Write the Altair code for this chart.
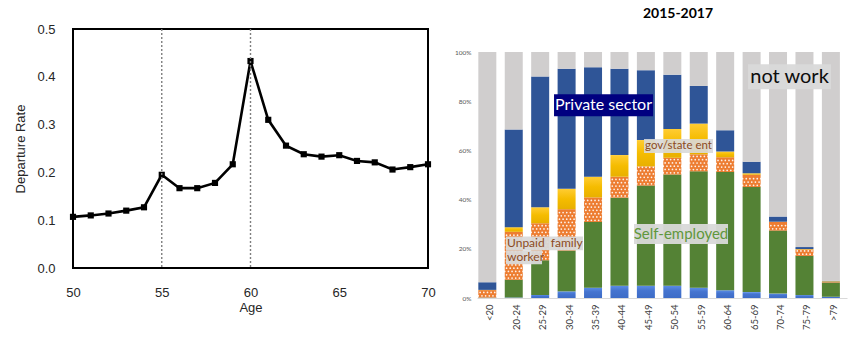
import altair as alt
import pandas as pd

# ---------------- Left panel: departure rate by age ----------------
ages = list(range(50, 71))
departure_rate = [0.107, 0.110, 0.114, 0.120, 0.127, 0.195, 0.167, 0.167, 0.178, 0.217,
                  0.433, 0.310, 0.256, 0.238, 0.233, 0.236, 0.224, 0.221, 0.206, 0.211, 0.217]
reference_ages = [55, 60]
x_ticks = [50, 55, 60, 65, 70]
y_ticks = [0.0, 0.1, 0.2, 0.3, 0.4, 0.5]

# ---------------- Right panel: employment shares (%) ----------------
age_groups = ["<20", "20-24", "25-29", "30-34", "35-39", "40-44", "45-49",
              "50-54", "55-59", "60-64", "65-69", "70-74", "75-79", ">79"]
public_sector = [0.1, 0.2, 1.2, 2.7, 4.2, 5.0, 5.0, 5.0, 4.2, 3.1, 2.4, 1.8, 1.2, 0.5]
self_employed = [0.1, 7.2, 14.1, 16.6, 26.7, 35.8, 40.7, 45.2, 47.3, 48.1, 42.7, 25.6, 15.9, 5.8]
unpaid_family = [3.0, 19.5, 15.1, 16.8, 10.0, 8.5, 7.8, 6.8, 6.9, 6.0, 5.0, 3.5, 2.6, 0.3]
gov_state_ent = [0.1, 1.9, 6.5, 8.3, 8.4, 8.8, 10.7, 11.7, 12.5, 2.4, 0.6, 0.1, 0.2, 0.2]
private_sector = [3.1, 39.7, 53.1, 48.8, 44.5, 35.1, 28.4, 22.1, 15.3, 8.6, 4.7, 2.1, 0.8, 0.2]
not_work = [93.6, 31.5, 10.0, 6.8, 6.2, 6.8, 7.4, 9.2, 13.8, 31.8, 44.6, 66.9, 79.3, 93.0]
pct_ticks = [0, 10, 20, 30, 40, 50, 60, 70, 80, 90, 100]

LEFT_FONT = "Liberation Sans"
RIGHT_FONT = "Lato"

# ================= Left chart =================
left_df = pd.DataFrame({"age": ages, "rate": departure_rate})
ref_df = pd.DataFrame({"age": reference_ages})

x_left = alt.X("age:Q",
               scale=alt.Scale(domain=[50, 70], nice=False, zero=False),
               axis=alt.Axis(values=x_ticks, title="Age", grid=False, domain=False, ticks=False,
                             labelFlush=False, labelOverlap=False,
                             labelFont=LEFT_FONT, labelFontSize=13, labelColor="#262626",
                             labelPadding=18, titleFont=LEFT_FONT, titleFontSize=13,
                             titleFontWeight="normal", titleColor="#262626", titlePadding=2))
y_left = alt.Y("rate:Q",
               scale=alt.Scale(domain=[0, 0.5], nice=False),
               axis=alt.Axis(values=y_ticks, format=".1f", title="Departure Rate", grid=False,
                             domain=False, ticks=False, labelFlush=False, labelOverlap=False,
                             labelFont=LEFT_FONT, labelFontSize=13,
                             labelColor="#262626", labelPadding=18, titleFont=LEFT_FONT,
                             titleFontSize=13, titleFontWeight="normal", titleColor="#262626",
                             titlePadding=9))

line = alt.Chart(left_df).mark_line(
    color="black", strokeWidth=2.6,
    point=alt.OverlayMarkDef(shape="square", size=38, filled=True, color="black", opacity=1)
).encode(x=x_left, y=y_left)

rules = alt.Chart(ref_df).mark_rule(color="#7f7f7f", strokeDash=[2, 2], strokeWidth=1.4).encode(
    x=alt.X("age:Q")
)

left = alt.layer(line, rules).properties(
    width=355, height=239,
    view=alt.ViewBackground(stroke="black", strokeWidth=2),
)

# ================= Right chart =================
segments = [
    ("public", public_sector),
    ("self", self_employed),
    ("unpaid", unpaid_family),
    ("gov", gov_state_ent),
    ("private", private_sector),
    ("notwork", not_work),
]
rows = []
for order, (name, vals) in enumerate(segments):
    for g, v in zip(age_groups, vals):
        rows.append({"group": g, "segment": name, "order": order, "value": v})
bar_df = pd.DataFrame(rows)
one_row = pd.DataFrame({"k": [0]})

RIGHT_H = 269      # group height (same top as the left panel)
RIGHT_TOP = 23     # gap between group top and the 100% line

x_right = alt.X("group:N",
                scale=alt.Scale(domain=age_groups, paddingInner=0.1, paddingOuter=0.05),
                axis=alt.Axis(title=None, labelAngle=-90, labelFont=RIGHT_FONT, labelFontSize=9.5,
                              labelColor="#404040", labelPadding=6, ticks=False, domain=True,
                              domainColor="#d9d9d9", domainWidth=1.2, grid=False))
y_right_scale = alt.Scale(domain=[0, 100], nice=False, range=[RIGHT_H, RIGHT_TOP])
y_right_axis = alt.Axis(values=pct_ticks, labelExpr="datum.value + '%'", title=None, grid=False,
                        domain=False, ticks=False, labelFont=RIGHT_FONT, labelFontSize=6.5,
                        labelColor="#595959", labelPadding=6)

base = alt.Chart(bar_df).transform_stack(
    stack="value", groupby=["group"], as_=["y0", "y1"],
    sort=[alt.SortField("order", order="ascending")],
)

yellow_grad = alt.LinearGradient(gradient="linear", x1=0, x2=0, y1=0, y2=1,
                                 stops=[alt.GradientStop(color="#ffcc33", offset=0),
                                        alt.GradientStop(color="#f5bc00", offset=0.5),
                                        alt.GradientStop(color="#e8b000", offset=1)])
blue_grad = alt.LinearGradient(gradient="linear", x1=0, x2=0, y1=0, y2=1,
                               stops=[alt.GradientStop(color="#5b8de6", offset=0),
                                      alt.GradientStop(color="#4574cf", offset=0.4),
                                      alt.GradientStop(color="#3d6cc7", offset=1)])
seg_colors = {
    "public": blue_grad,
    "self": "#548235",
    "unpaid": "#ed7d31",
    "gov": yellow_grad,
    "private": "#2f5597",
    "notwork": "#d0cece",
}

bar_layers = []
for name, _ in segments:
    bar_layers.append(
        base.transform_filter(alt.datum.segment == name)
        .mark_bar(color=seg_colors[name], strokeWidth=0)
        .encode(x=x_right,
                y=alt.Y("y0:Q", scale=y_right_scale, axis=y_right_axis),
                y2="y1:Q")
    )

# white dotted pattern on the "unpaid family worker" segments
dot_cols = list(range(14))
dots = (
    base.transform_filter(alt.datum.segment == "unpaid")
    .transform_calculate(rws="sequence(0, floor((datum.y1 - datum.y0 - 1.0) / 1.34) + 1)")
    .transform_flatten(["rws"], as_=["r"])
    .transform_calculate(ydot="datum.y0 + 0.7 + datum.r * 1.34",
                         cls="sequence(datum.r % 2, 14, 2)")
    .transform_flatten(["cls"], as_=["c"])
    .mark_circle(size=3, color="white", opacity=0.9)
    .encode(x=x_right,
            xOffset=alt.XOffset("c:N", scale=alt.Scale(domain=dot_cols, paddingInner=0,
                                                       paddingOuter=0)),
            y=alt.Y("ydot:Q", scale=y_right_scale, axis=y_right_axis))
)


def label_box(group, y_top, y_bot, width, x_off, fill, opacity=1.0):
    return alt.Chart(one_row).mark_rect(width=width, xOffset=x_off, fill=fill, opacity=opacity,
                                        strokeWidth=0).encode(
        x=alt.datum(group), y=alt.datum(y_top), y2=alt.datum(y_bot)
    )


def label_text(group, y, text, size, color, dx=0, align="center"):
    return alt.Chart(one_row).mark_text(text=text, font=RIGHT_FONT, fontSize=size, fill=color,
                                        dx=dx, align=align, baseline="middle").encode(
        x=alt.datum(group), y=alt.datum(y)
    )


ann = [
    label_box("70-74", 95.0, 84.9, 83, 8.6, "#d9d9d9", 0.95),
    label_text("70-74", 90.0, "not work", 20, "#0d0d0d", dx=8.6),
    label_box("35-39", 82.8, 73.9, 99, 7.6, "#000080"),
    label_text("35-39", 78.4, "Private sector", 16, "white", dx=7.6),
    label_box("50-54", 64.6, 58.9, 69, 3.3, "#d9d9d9", 0.9),
    label_text("50-54", 61.7, "gov/state ent", 11.5, "#8c4a22", dx=3.3),
    label_box("25-29", 25.0, 19.4, 77, 1.4, "#d9d9d9", 0.95),
    label_box("20-24", 19.4, 13.7, 36, 7.4, "#d9d9d9", 0.95),
    label_text("20-24", 22.2, "Unpaid\u00a0 family", 12, "#8c4a22", dx=-9.6, align="left"),
    label_text("20-24", 16.5, "worker", 12, "#8c4a22", dx=-9.6, align="left"),
    label_box("50-54", 30.1, 22.0, 94, 5.8, "#d9d9d9", 0.95),
    label_text("50-54", 26.0, "Self-employed", 15, "#5f973c", dx=5.8),
]

right = alt.layer(*bar_layers, dots, *ann).properties(
    width=370, height=RIGHT_H,
    title=alt.TitleParams("2015-2017", font=RIGHT_FONT, fontSize=14, fontWeight="bold",
                          color="black", anchor="middle", dx=16, offset=8),
)

chart = alt.hconcat(left, right, spacing=17).properties(
    padding={"left": 13, "top": 7, "right": 5, "bottom": 5},
    background="white",
).configure_view(stroke=None)

chart.save("out.html", embed_options={"renderer": "svg", "actions": False})
